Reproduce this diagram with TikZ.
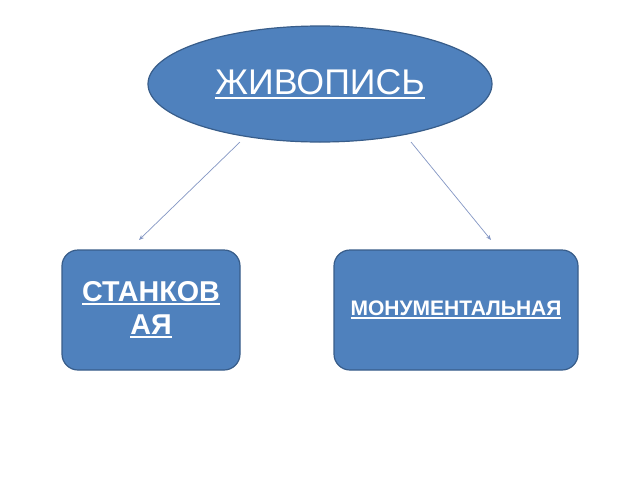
\documentclass[tikz,border=0pt]{standalone}
\usepackage{fontspec}
\setmainfont{Liberation Sans}
\usetikzlibrary{shapes.geometric,arrows.meta}
\definecolor{boxfill}{HTML}{4F81BD}
\definecolor{boxline}{HTML}{385D8A}
\definecolor{arrowc}{HTML}{8497C4}
\newcommand\myul[2][-3.5pt]{\leavevmode\setbox0=\hbox{#2}\rlap{\copy0}\rule[#1]{\wd0}{1.8pt}}
\tikzset{
  shapebase/.style={fill=boxfill, draw=boxline, line width=1.2pt, text=white, align=center, inner sep=0pt},
  oval/.style={shapebase, ellipse, minimum width=344pt, minimum height=116pt},
  rbox/.style={shapebase, rectangle, rounded corners=16pt},
  conn/.style={draw=arrowc, line width=0.7pt, -{Stealth[length=5pt,width=4pt]}}
}
\begin{document}
\begin{tikzpicture}[x=1pt,y=-1pt]
\useasboundingbox (0,0) rectangle (640,480);
\fill[white] (0,0) rectangle (640,480);
\node[oval, font=\fontsize{35.7}{42}\selectfont] (top) at (320,84) {\myul[-4.5pt]{ЖИВОПИСЬ}};
\node[rbox, minimum width=178pt, minimum height=120pt, font=\fontsize{28.7}{33}\selectfont\bfseries] (left) at (151,310)
  {\myul{СТАНКОВ}\\\myul{АЯ}};
\node[rbox, minimum width=244pt, minimum height=120pt, font=\fontsize{21}{25}\selectfont\bfseries] (right) at (456,310)
  {\myul[-3pt]{МОНУМЕНТАЛЬНАЯ}};
\coordinate (ls) at (240,142);
\coordinate (le) at (139,240);
\coordinate (rs) at (411,142);
\coordinate (re) at (491,240);
\draw[conn] (ls) -- (le);
\draw[conn] (rs) -- (re);
\end{tikzpicture}
\end{document}
